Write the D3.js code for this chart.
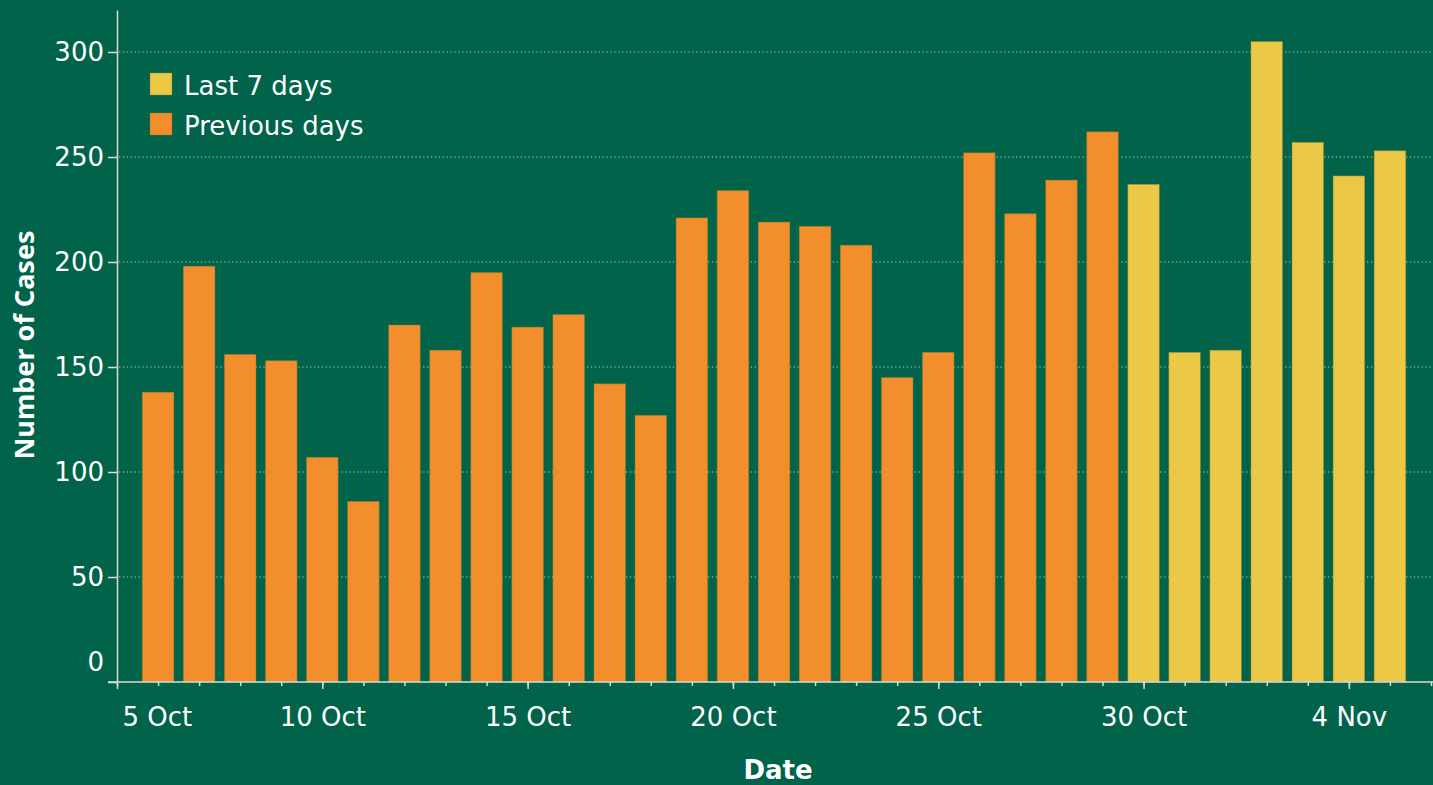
<!DOCTYPE html>
<html>
<head>
<meta charset="utf-8">
<script src="https://cdn.jsdelivr.net/npm/d3@7"></script>
<style>
  body { margin: 0; background: #00634a; overflow: hidden; }
  text { font-family: "DejaVu Sans", sans-serif; fill: #ffffff; }
</style>
</head>
<body>
<script>
// Daily case counts, 6 Oct - 5 Nov
var dates = ["2020-10-06", "2020-10-07", "2020-10-08", "2020-10-09", "2020-10-10",
  "2020-10-11", "2020-10-12", "2020-10-13", "2020-10-14", "2020-10-15",
  "2020-10-16", "2020-10-17", "2020-10-18", "2020-10-19", "2020-10-20",
  "2020-10-21", "2020-10-22", "2020-10-23", "2020-10-24", "2020-10-25",
  "2020-10-26", "2020-10-27", "2020-10-28", "2020-10-29", "2020-10-30",
  "2020-10-31", "2020-11-01", "2020-11-02", "2020-11-03", "2020-11-04",
  "2020-11-05"];
var cases = [138, 198, 156, 153, 107, 86, 170, 158, 195, 169,
  175, 142, 127, 221, 234, 219, 217, 208, 145, 157,
  252, 223, 239, 262, 237, 157, 158, 305, 257, 241, 253];
var lastDays = 7;

var legendLabels = ["Last 7 days", "Previous days"];
var legendColors = ["#ebc946", "#f28e2b"];

var yTicks = [0, 50, 100, 150, 200, 250, 300];
var xTickDates = ["2020-10-05", "2020-10-10", "2020-10-15", "2020-10-20",
  "2020-10-25", "2020-10-30", "2020-11-04"];
var xDomain = ["2020-10-05", "2020-11-06"];

// SVG area
var svgWidth = 1433;
var svgHeight = 785;

var margin = { top: 10, right: 0, bottom: 103, left: 117 };
var width = svgWidth - margin.left - margin.right;
var height = svgHeight - margin.top - margin.bottom;

var svg = d3.select("body")
  .append("svg")
  .attr("width", svgWidth)
  .attr("height", svgHeight);

svg.append("rect")
  .attr("width", svgWidth)
  .attr("height", svgHeight)
  .attr("fill", "#00634a");

var chartGroup = svg.append("g")
  .attr("transform", `translate(${margin.left}, ${margin.top})`);

var parseTime = d3.timeParse("%Y-%m-%d");

var data = dates.map(function(d, i) {
  return {
    date: parseTime(d),
    cases: cases[i],
    recent: i >= dates.length - lastDays
  };
});

// Scales
var xScale = d3.scaleTime()
  .domain(xDomain.map(parseTime))
  .range([0, width - 2]);

var yScale = d3.scaleLinear()
  .domain([0, 320])
  .range([height, 0]);

var dayWidth = xScale(parseTime("2020-10-06")) - xScale(parseTime("2020-10-05"));
var barWidth = dayWidth * 0.77;

// Gridlines (dotted)
chartGroup.append("g")
  .selectAll("line")
  .data(yTicks.filter(d => d > 0))
  .enter()
  .append("line")
  .attr("x1", 2)
  .attr("x2", width)
  .attr("y1", d => yScale(d))
  .attr("y2", d => yScale(d))
  .attr("stroke", "#ffffff")
  .attr("stroke-opacity", 0.45)
  .attr("stroke-width", 1.3)
  .attr("stroke-dasharray", "1.3,2.6");

// Bars
chartGroup.append("g")
  .selectAll("rect")
  .data(data)
  .enter()
  .append("rect")
  .attr("x", d => xScale(d.date) - barWidth / 2)
  .attr("y", d => yScale(d.cases))
  .attr("width", barWidth)
  .attr("height", d => height - yScale(d.cases))
  .attr("fill", d => d.recent ? legendColors[0] : legendColors[1])
  .attr("stroke", "#8a7a30")
  .attr("stroke-opacity", 0.45)
  .attr("stroke-width", 1);

// Axes
var axisColor = "#d8dcd6";

var minorAxis = d3.axisBottom(xScale)
  .ticks(d3.timeDay.every(1))
  .tickSize(4)
  .tickSizeOuter(0)
  .tickFormat("");

chartGroup.append("g")
  .attr("transform", `translate(0,${height})`)
  .call(minorAxis)
  .call(g => g.select(".domain").remove())
  .call(g => g.selectAll("line").attr("stroke", axisColor).attr("stroke-width", 1.5));

var bottomAxis = d3.axisBottom(xScale)
  .tickValues(xTickDates.map(parseTime))
  .tickFormat(d3.timeFormat("%-d %b"))
  .tickSize(7)
  .tickSizeOuter(0)
  .tickPadding(19);

var xAxisG = chartGroup.append("g")
  .attr("transform", `translate(0,${height})`)
  .call(bottomAxis);

xAxisG.select(".domain").remove();
xAxisG.selectAll("line").attr("stroke", axisColor).attr("stroke-width", 1.5);
xAxisG.selectAll("text")
  .attr("fill", "#ffffff")
  .style("font-size", "26px")
  .style("font-family", "'DejaVu Sans', sans-serif");
// first label sits right of its tick so it isn't clipped
xAxisG.selectAll("text")
  .filter((d, i) => i === 0)
  .attr("text-anchor", "start")
  .attr("x", 5);

chartGroup.append("line")
  .attr("x1", -9)
  .attr("x2", width)
  .attr("y1", height)
  .attr("y2", height)
  .attr("stroke", axisColor)
  .attr("stroke-width", 1.5);

var leftAxis = d3.axisLeft(yScale)
  .tickValues(yTicks)
  .tickSize(9)
  .tickSizeOuter(0)
  .tickPadding(4);

var yAxisG = chartGroup.append("g")
  .call(leftAxis);

yAxisG.select(".domain")
  .attr("stroke", axisColor)
  .attr("stroke-width", 1.5);
yAxisG.selectAll("line").attr("stroke", axisColor).attr("stroke-width", 1.5);
yAxisG.selectAll("text")
  .attr("fill", "#ffffff")
  .style("font-size", "26px")
  .style("font-family", "'DejaVu Sans', sans-serif");
// zero label is lifted off the baseline
yAxisG.selectAll("text")
  .filter(d => d === 0)
  .attr("y", -20);

// Axis titles
svg.append("text")
  .attr("x", margin.left + width / 2 + 3)
  .attr("y", 779)
  .attr("text-anchor", "middle")
  .style("font-size", "26px")
  .style("font-weight", "bold")
  .text("Date");

svg.append("text")
  .attr("transform", "translate(34, 345) rotate(-90)")
  .attr("text-anchor", "middle")
  .style("font-size", "27px")
  .style("font-family", "'Noto Sans', sans-serif")
  .style("font-weight", "bold")
  .text("Number of Cases");

// Legend
var legend = svg.append("g")
  .attr("transform", "translate(150, 73)");

var legendItems = legend.selectAll("g")
  .data(legendLabels)
  .enter()
  .append("g")
  .attr("transform", (d, i) => `translate(0, ${i * 40})`);

legendItems.append("rect")
  .attr("width", 22)
  .attr("height", 22)
  .attr("fill", (d, i) => legendColors[i])
  .attr("stroke", "#8a7a30")
  .attr("stroke-opacity", 0.45);

legendItems.append("text")
  .attr("x", 34)
  .attr("y", 13)
  .attr("dy", "0.35em")
  .style("font-size", "26px")
  .text(d => d);
</script>
</body>
</html>
